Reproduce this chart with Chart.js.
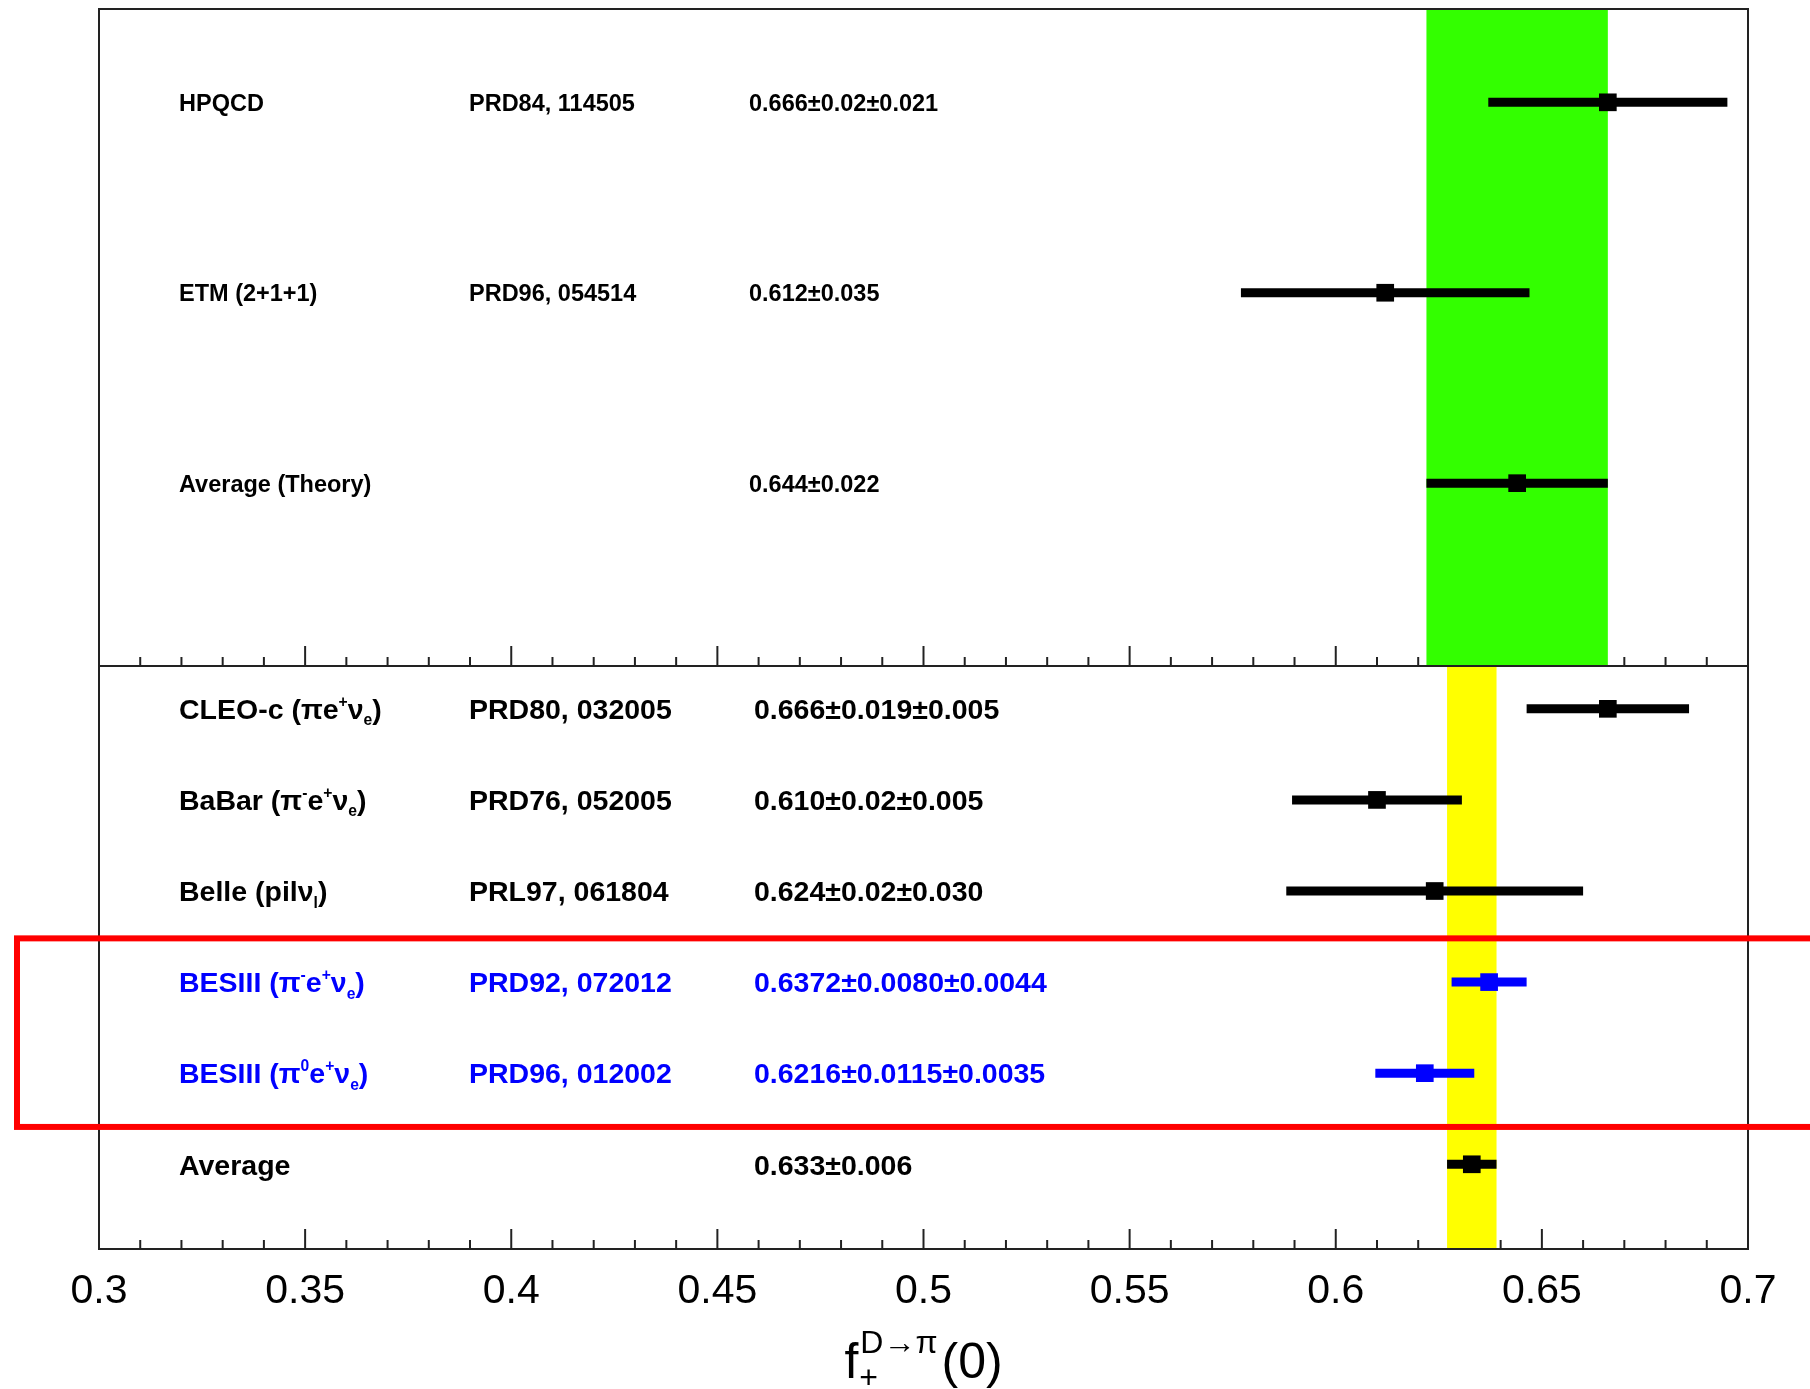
<!DOCTYPE html>
<html>
<head>
<meta charset="utf-8">
<title>f+ D to pi form factor comparison</title>
<script src="https://cdn.jsdelivr.net/npm/chart.js@4.4.1/dist/chart.umd.min.js"></script>
<style>
  html, body { margin: 0; padding: 0; background: #ffffff; }
  #wrap { position: relative; width: 1810px; height: 1389px; }
  canvas { position: absolute; left: 0; top: 0; }
</style>
</head>
<body>
<div id="wrap">
  <canvas id="theory" width="1810" height="1389"></canvas>
  <canvas id="exp" width="1810" height="1389"></canvas>
</div>
<script>
// x axis
const xMin = 0.3;
const xMax = 0.7;
const xMajorTicks = [0.3, 0.35, 0.4, 0.45, 0.5, 0.55, 0.6, 0.65, 0.7];
const xTickLabels = ['0.3', '0.35', '0.4', '0.45', '0.5', '0.55', '0.6', '0.65', '0.7'];

// upper pad: lattice results
const theoryNames = ['HPQCD', 'ETM (2+1+1)', 'Average (Theory)'];
const theoryRefs = ['PRD84, 114505', 'PRD96, 054514', ''];
const theoryTexts = ['0.666±0.02±0.021', '0.612±0.035', '0.644±0.022'];
const theoryValues = [0.666, 0.612, 0.644];
const theoryErrors = [0.029, 0.035, 0.022];
const theoryRows = [3, 2, 1];
const theoryColors = ['#000000', '#000000', '#000000'];
const theoryBand = [0.622, 0.666];

// lower pad: measurements (^{} = superscript, _{} = subscript)
const expNames = [
  'CLEO-c (πe^{+}ν_{e})',
  'BaBar (π^{-}e^{+}ν_{e})',
  'Belle (pilν_{l})',
  'BESIII (π^{-}e^{+}ν_{e})',
  'BESIII (π^{0}e^{+}ν_{e})',
  'Average'
];
const expRefs = ['PRD80, 032005', 'PRD76, 052005', 'PRL97, 061804', 'PRD92, 072012', 'PRD96, 012002', ''];
const expTexts = ['0.666±0.019±0.005', '0.610±0.02±0.005', '0.624±0.02±0.030',
                  '0.6372±0.0080±0.0044', '0.6216±0.0115±0.0035', '0.633±0.006'];
const expValues = [0.666, 0.610, 0.624, 0.6372, 0.6216, 0.633];
const expErrors = [0.0197, 0.0206, 0.036, 0.0091, 0.012, 0.006];
const expRows = [6, 5, 4, 3, 2, 1];
const expColors = ['#000000', '#000000', '#000000', '#0000ff', '#0000ff', '#000000'];
const expBand = [0.627, 0.639];
const highlightSpan = [3.48, 1.41];   // red box around the BESIII rows

const FONT = '"Liberation Sans", Arial, Helvetica, sans-serif';
Chart.defaults.font.family = FONT;

function isMajor(v) {
  return xMajorTicks.some(m => Math.abs(m - v) < 1e-6);
}

function buildDatasets(values, errors, rows, colors) {
  const bars = values.map((v, i) => ({
    data: [{x: v - errors[i], y: rows[i]}, {x: v + errors[i], y: rows[i]}],
    showLine: true,
    borderColor: colors[i],
    borderWidth: 9,
    borderCapStyle: 'butt',
    pointRadius: 0,
    fill: false
  }));
  const markers = {
    data: values.map((v, i) => ({x: v, y: rows[i]})),
    pointStyle: 'rect',
    pointRadius: 12.5,
    pointBorderWidth: 0,
    pointBackgroundColor: colors,
    showLine: false
  };
  return [...bars, markers];
}

// draws text with ^{..} and _{..} pieces
function drawRich(ctx, str, x, y, size, color) {
  const parts = str.split(/(\^\{[^}]*\}|_\{[^}]*\})/).filter(s => s.length);
  ctx.fillStyle = color;
  ctx.textAlign = 'left';
  ctx.textBaseline = 'alphabetic';
  let cx = x;
  parts.forEach(p => {
    let s = size, dy = 0, t = p;
    if (p[0] === '^') { t = p.slice(2, -1); s = size * 0.55; dy = -size * 0.42; }
    else if (p[0] === '_') { t = p.slice(2, -1); s = size * 0.55; dy = size * 0.22; }
    ctx.font = `bold ${s}px ${FONT}`;
    ctx.fillText(t, cx, y + dy);
    cx += ctx.measureText(t).width;
  });
}

function padPlugin(opts) {
  return {
    id: 'pad',
    beforeDatasetsDraw(chart) {
      const {ctx, chartArea: a} = chart;
      const x = chart.scales.x;
      ctx.save();
      ctx.strokeStyle = '#222222';
      ctx.lineWidth = 2;
      x.ticks.forEach(t => {
        const px = x.getPixelForValue(t.value);
        const len = isMajor(t.value) ? 20 : 9;
        ctx.beginPath();
        ctx.moveTo(px, a.bottom);
        ctx.lineTo(px, a.bottom - len);
        ctx.stroke();
      });
      const b0 = x.getPixelForValue(opts.band[0]);
      const b1 = x.getPixelForValue(opts.band[1]);
      ctx.fillStyle = opts.bandColor;
      ctx.fillRect(b0, a.top, b1 - b0, a.bottom - a.top);
      ctx.strokeRect(a.left, a.top, a.right - a.left, a.bottom - a.top);
      ctx.restore();
    },
    afterDatasetsDraw(chart) {
      const {ctx} = chart;
      const y = chart.scales.y;
      ctx.save();
      opts.rows.forEach((r, i) => {
        const base = y.getPixelForValue(r) + opts.size * 0.36;
        drawRich(ctx, opts.names[i], opts.cols[0], base, opts.size, opts.colors[i]);
        drawRich(ctx, opts.refs[i], opts.cols[1], base, opts.size, opts.colors[i]);
        drawRich(ctx, opts.texts[i], opts.cols[2], base, opts.size, opts.colors[i]);
      });
      if (opts.box) {
        const a = chart.chartArea;
        const top = y.getPixelForValue(opts.box[0]);
        const bot = y.getPixelForValue(opts.box[1]);
        ctx.strokeStyle = '#ff0000';
        ctx.lineWidth = 6;
        ctx.strokeRect(a.left - 82, top, chart.width + 20 - (a.left - 82), bot - top);
      }
      if (opts.title) {
        const a = chart.chartArea;
        const cx = (a.left + a.right) / 2;
        const base = a.bottom + 129;
        ctx.fillStyle = '#000000';
        ctx.textAlign = 'left';
        ctx.textBaseline = 'alphabetic';
        ctx.font = `50px ${FONT}`;
        const wf = ctx.measureText('f').width;
        const wp = ctx.measureText('(0)').width;
        ctx.font = `32px ${FONT}`;
        const ws = ctx.measureText('D→π').width;
        const total = wf + 2 + ws + 4 + wp;
        const x0 = cx - total / 2;
        ctx.font = `50px ${FONT}`;
        ctx.fillText('f', x0, base);
        ctx.fillText('(0)', x0 + wf + 2 + ws + 4, base);
        ctx.font = `32px ${FONT}`;
        ctx.fillText('D→π', x0 + wf + 2, base - 25);
        ctx.fillText('+', x0 + wf + 1, base + 10);
      }
      ctx.restore();
    }
  };
}

function tickLabel(v) {
  const i = xMajorTicks.findIndex(m => Math.abs(m - v) < 1e-6);
  return i >= 0 ? xTickLabels[i] : '';
}

const commonOptions = {
  responsive: false,
  animation: false,
  events: [],
  plugins: { legend: { display: false }, tooltip: { enabled: false } }
};

// upper pad
new Chart(document.getElementById('theory'), {
  type: 'scatter',
  data: { datasets: buildDatasets(theoryValues, theoryErrors, theoryRows, theoryColors) },
  options: {
    ...commonOptions,
    layout: { autoPadding: false, padding: { left: 99, right: 62, top: 9, bottom: 723 } },
    scales: {
      x: {
        type: 'linear', min: xMin, max: xMax,
        grid: { display: false }, border: { display: false },
        ticks: { display: false, stepSize: 0.01, autoSkip: false },
        afterFit: s => { s.height = 0; }
      },
      y: { type: 'linear', min: 0.04, max: 3.49, display: false }
    }
  },
  plugins: [padPlugin({
    band: theoryBand, bandColor: '#33ff00',
    rows: theoryRows, names: theoryNames, refs: theoryRefs, texts: theoryTexts,
    colors: theoryColors, size: 23.5, cols: [179, 469, 749]
  })]
});

// lower pad
new Chart(document.getElementById('exp'), {
  type: 'scatter',
  data: { datasets: buildDatasets(expValues, expErrors, expRows, expColors) },
  options: {
    ...commonOptions,
    layout: { autoPadding: false, padding: { left: 99, right: 62, top: 666, bottom: 0 } },
    scales: {
      x: {
        type: 'linear', min: xMin, max: xMax,
        grid: { display: false }, border: { display: false },
        ticks: {
          stepSize: 0.01, autoSkip: false, maxRotation: 0, minRotation: 0,
          padding: 10, color: '#000000',
          font: { size: 41, family: FONT },
          callback: tickLabel
        },
        afterFit: s => { s.height = 140; }
      },
      y: { type: 'linear', min: 0.07, max: 6.47, display: false }
    }
  },
  plugins: [padPlugin({
    band: expBand, bandColor: '#ffff00',
    rows: expRows, names: expNames, refs: expRefs, texts: expTexts,
    colors: expColors, size: 28.5, cols: [179, 469, 754],
    box: highlightSpan, title: true
  })]
});
</script>
</body>
</html>
